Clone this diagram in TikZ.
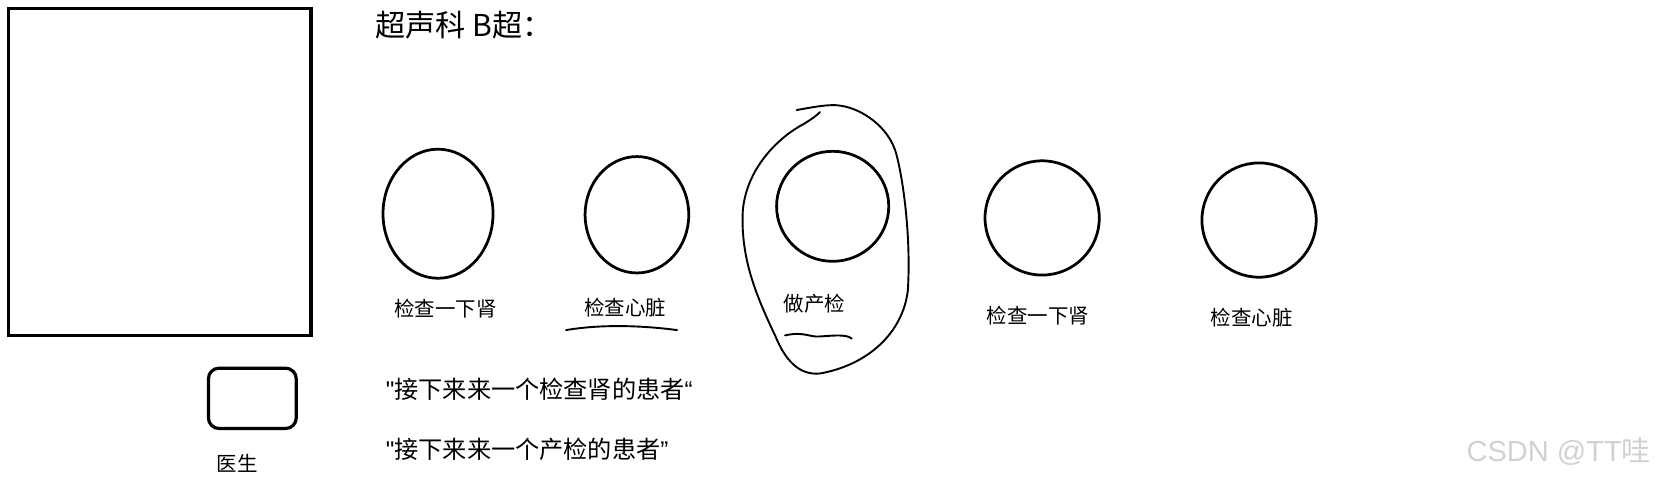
\documentclass[tikz,border=0pt]{standalone}
\usepackage{fontspec}
\setmainfont{Noto Sans CJK SC}[Ligatures=TeXOff]
\newfontfamily\wmfont{Liberation Sans}[Ligatures=TeXOff]
\newcommand{\qmark}[1]{{\wmfont #1}}
\begin{document}
\begin{tikzpicture}[x=0.01cm,y=-0.01cm,
  thickline/.style={line width=0.03cm},
  ring/.style={line width=0.026cm},
  sketch/.style={line width=0.018cm, line cap=round, line join=round},
  lbl/.style={font=\fontsize{5.5pt}{6pt}\selectfont, inner sep=0pt},
  quote/.style={font=\fontsize{6.5pt}{7pt}\selectfont, inner sep=0pt, anchor=west},
]
\useasboundingbox (0,0) rectangle (1568,455);
% big room
\draw[thickline] (8,8) rectangle (294,317);
% doctor
\draw[thickline, rounded corners=0.1cm] (197,348) rectangle (280,405);
\node[lbl] (doc) at (224,438) {医生};
% title
\node[font=\fontsize{8.1pt}{9pt}\selectfont, inner sep=0pt, anchor=west] (title) at (354,24) {超声科 B超：};
% patients
\draw[ring] (414,202) ellipse [x radius=52, y radius=61];
\node[lbl] (l1) at (421,292) {检查一下肾};
\draw[ring] (602,203) ellipse [x radius=49, y radius=55];
\node[lbl] (l2) at (591,291) {检查心脏};
\draw[sketch] (535,312) .. controls (570,306) and (610,308) .. (640,312);
\draw[ring] (787,195) ellipse [x radius=53, y radius=52];
\node[lbl] (l3) at (770,287) {做产检};
\draw[sketch] (742,317) .. controls (760,313) and (765,319) .. (775,318)
  .. controls (790,317) and (800,316) .. (805,320);
\draw[ring] (985,206) ellipse [x radius=54, y radius=54];
\node[lbl] (l4) at (981,298) {检查一下肾};
\draw[ring] (1190,208) ellipse [x radius=54, y radius=54];
\node[lbl] (l5) at (1183,300) {检查心脏};
% loop around 做产检
\draw[sketch] (753,104) .. controls (770,101) and (785,98) .. (795,100)
  .. controls (815,103) and (840,120) .. (847,145)
  .. controls (855,175) and (861,230) .. (858,275)
  .. controls (853,315) and (820,345) .. (775,353)
  .. controls (755,355) and (742,340) .. (733,318)
  .. controls (715,280) and (700,245) .. (702,200)
  .. controls (705,160) and (735,130) .. (760,117)
  .. controls (768,112) and (772,109) .. (775,106);
% quotes
\node[quote] (q1) at (364,368) {\qmark{"}接下来来一个检查肾的患者\qmark{“}};
\node[quote] (q2) at (364,425) {\qmark{"}接下来来一个产检的患者\qmark{”}};
% watermark
\node[font=\wmfont\fontsize{7.8pt}{8.5pt}\selectfont, text=black!18, inner sep=0pt, anchor=east] (wm) at (1561,427) {CSDN @TT\fontspec{Noto Sans CJK SC}哇};
\end{tikzpicture}
\end{document}
